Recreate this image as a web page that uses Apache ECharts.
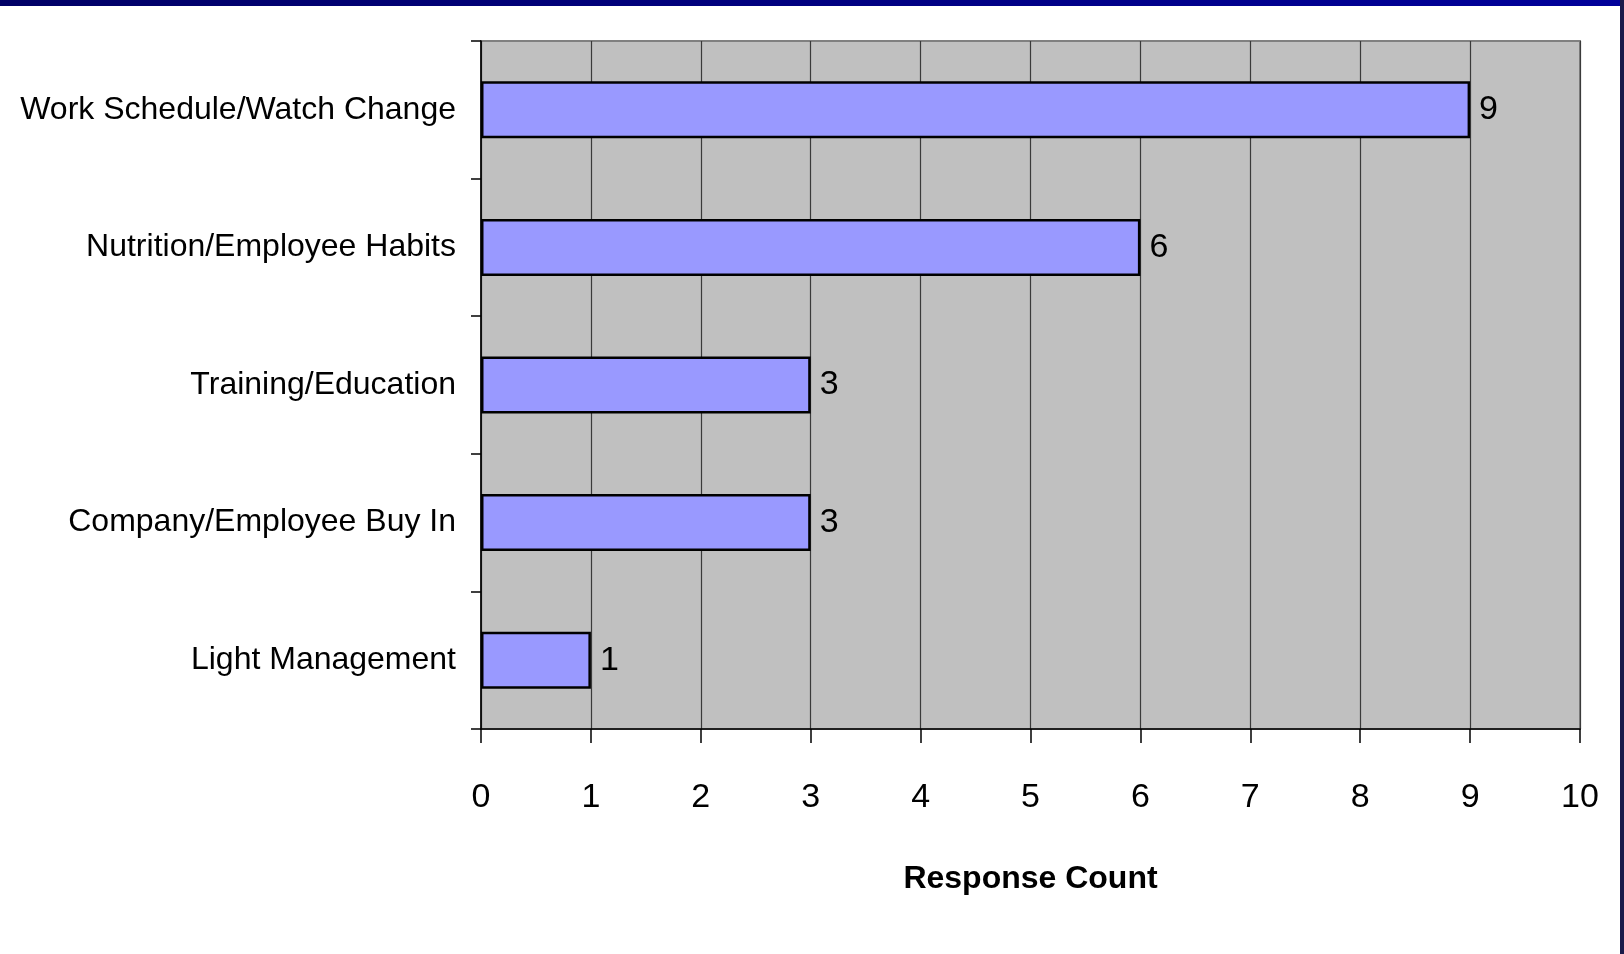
<!DOCTYPE html>
<html>
<head>
<meta charset="utf-8">
<style>
  html, body { margin: 0; padding: 0; background: #fff; }
  #chart { width: 1624px; height: 954px; }
</style>
<script src="https://cdn.jsdelivr.net/npm/echarts@6/dist/echarts.min.js"></script>
</head>
<body>
<div id="chart"></div>
<script>
// categories top to bottom
const categories = [
  'Work Schedule/Watch Change',
  'Nutrition/Employee Habits',
  'Training/Education',
  'Company/Employee Buy In',
  'Light Management'
];
const responseCounts = [9, 6, 3, 3, 1];
const xTicks = [0, 1, 2, 3, 4, 5, 6, 7, 8, 9, 10];

// no narrow font installed, so use smaller Liberation Sans to keep the widths
const fontNarrow = "'Liberation Sans Narrow', 'Arial Narrow', 'Liberation Sans', sans-serif";
const barColor = '#9999ff';
const plotBg = '#c0c0c0';

const chart = echarts.init(document.getElementById('chart'));

chart.setOption({
  backgroundColor: '#fff',
  animation: false,
  graphic: [
    // navy strip at top of slide
    {
      type: 'rect',
      shape: { x: 0, y: 0, width: 1624, height: 6 },
      style: {
        fill: new echarts.graphic.LinearGradient(0, 0, 1, 0, [
          { offset: 0, color: '#000066' },
          { offset: 1, color: '#00009a' }
        ])
      },
      silent: true
    },
    // slide border on the right
    {
      type: 'rect',
      shape: { x: 1620, y: 0, width: 4, height: 954 },
      style: { fill: '#1a1a4a' },
      silent: true
    }
  ],
  grid: {
    left: 481,
    right: 44,
    top: 41,
    bottom: 225,
    outerBoundsMode: 'none',
    containLabel: false,
    show: true,
    backgroundColor: plotBg,
    borderColor: '#808080',
    borderWidth: 2
  },
  xAxis: {
    type: 'value',
    min: xTicks[0],
    max: xTicks[xTicks.length - 1],
    interval: 1,
    name: 'Response Count',
    nameLocation: 'middle',
    nameGap: 134,
    nameTextStyle: {
      fontFamily: fontNarrow,
      fontSize: 32,
      fontWeight: 'bold',
      color: '#000'
    },
    axisLine: { show: true, lineStyle: { color: '#000', width: 1.5 } },
    axisTick: { show: true, length: 14, lineStyle: { color: '#000', width: 1.5 } },
    axisLabel: {
      margin: 52,
      fontFamily: fontNarrow,
      fontSize: 34,
      color: '#000'
    },
    splitLine: { show: true, lineStyle: { color: '#3a3a3a', width: 1.2 } }
  },
  yAxis: {
    type: 'category',
    inverse: true,
    data: categories,
    axisLine: { show: true, lineStyle: { color: '#000', width: 1.5 } },
    axisTick: { show: true, length: 10, lineStyle: { color: '#000', width: 1.5 } },
    axisLabel: {
      margin: 25,
      fontFamily: fontNarrow,
      fontSize: 32,
      color: '#000'
    },
    splitLine: { show: false }
  },
  series: [
    {
      type: 'bar',
      data: responseCounts,
      barWidth: 57,
      itemStyle: {
        color: barColor,
        borderColor: '#000',
        borderWidth: 2.5
      },
      label: {
        show: true,
        position: 'right',
        distance: 9,
        fontFamily: fontNarrow,
        fontSize: 34,
        color: '#000'
      }
    }
  ]
});
</script>
</body>
</html>
